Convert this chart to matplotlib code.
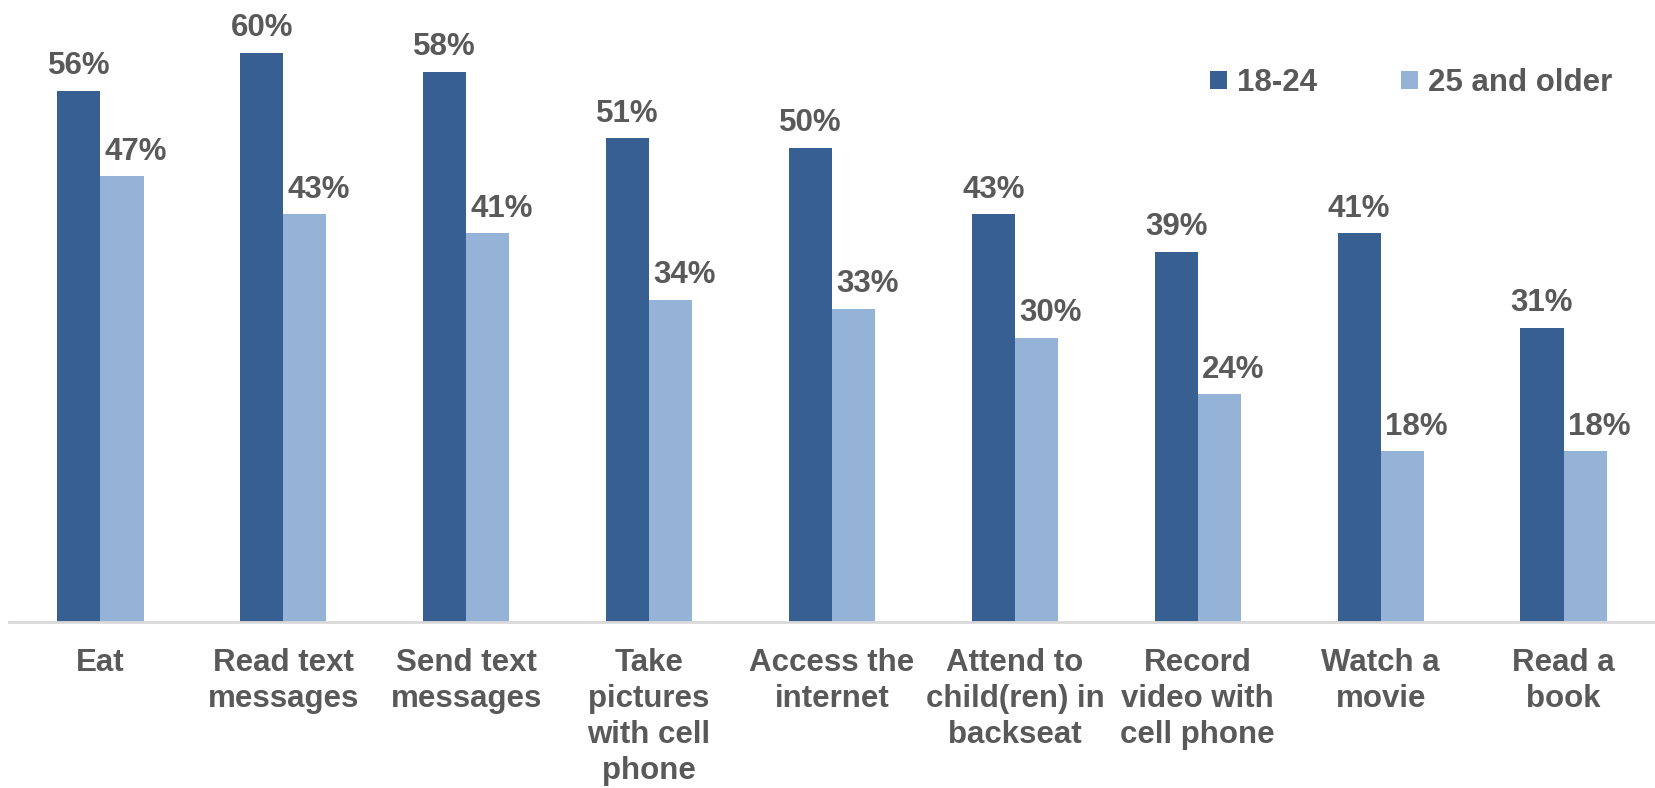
import matplotlib
matplotlib.use("Agg")
import matplotlib.pyplot as plt
import numpy as np

kategorier = ["Eat", "Read text\nmessages", "Send text\nmessages", "Take\npictures\nwith cell\nphone",
              "Access the\ninternet", "Attend to\nchild(ren) in\nbackseat", "Record\nvideo with\ncell phone",
              "Watch a\nmovie", "Read a\nbook"]
unga = [56, 60, 58, 51, 50, 43, 39, 41, 31]
aldre = [47, 43, 41, 34, 33, 30, 24, 18, 18]
serier = ["18-24", "25 and older"]

plt.rcParams["font.family"] = ["Liberation Sans", "DejaVu Sans"]
textfarg = "#595959"
mork = "#375F91"
ljus = "#95B3D7"
fs = 22.5

fig = plt.figure(figsize=(16.55, 7.88), dpi=100)
ax = fig.add_axes([9 / 1655, 1 - 622 / 788, 1 - 9 / 1655, 622 / 788])

x = np.arange(len(kategorier))
b = 0.236
ax.bar(x - b / 2, unga, b, color=mork, label=serier[0])
ax.bar(x + b / 2, aldre, b, color=ljus, label=serier[1])

# etiketter ovanför staplarna, de ljusa lite förskjutna åt höger
for i in range(len(kategorier)):
    ax.annotate(f"{unga[i]}%", (x[i] - b / 2, unga[i]), xytext=(0, 7), textcoords="offset points",
                ha="center", va="bottom", fontsize=fs, fontweight="bold", color=textfarg)
    ax.annotate(f"{aldre[i]}%", (x[i] + b / 2, aldre[i]), xytext=(10, 7), textcoords="offset points",
                ha="center", va="bottom", fontsize=fs, fontweight="bold", color=textfarg)

ax.set_xlim(-0.5, len(kategorier) - 0.5)
ax.set_ylim(0, 65.6)
ax.set_yticks([])
ax.set_xticks(x)
ax.set_xticklabels(kategorier, fontsize=fs, fontweight="bold", color=textfarg, linespacing=1.26,
                   va="top")
ax.tick_params(axis="x", length=0, pad=19)
for sida in ["top", "right", "left"]:
    ax.spines[sida].set_visible(False)
ax.spines["bottom"].set_color("#D9D9D9")
ax.spines["bottom"].set_linewidth(2)

leg = fig.legend(loc="center right", bbox_to_anchor=(1612 / 1655, 1 - 83 / 788), ncol=2, frameon=False,
                 handlelength=0.55, handleheight=0.55, handletextpad=0.3, borderpad=0,
                 borderaxespad=0, columnspacing=2.7, prop={"weight": "bold", "size": fs})
for t in leg.get_texts():
    t.set_color(textfarg)

fig.savefig("out.png", dpi=100)
